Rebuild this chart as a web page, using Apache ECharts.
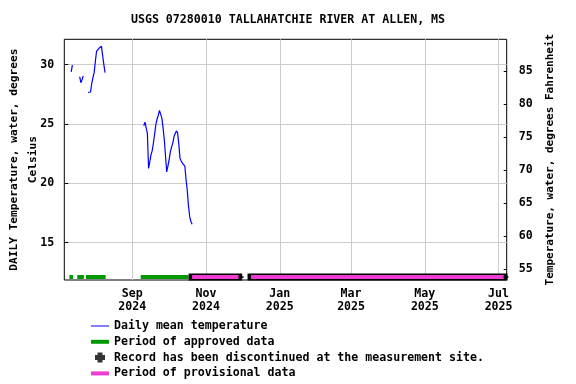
<!DOCTYPE html>
<html><head><meta charset="utf-8">
<script src="https://cdn.jsdelivr.net/npm/echarts@6/dist/echarts.min.js"></script>
<style>html,body{margin:0;padding:0;background:#fff}#c{width:576px;height:384px}</style>
</head><body><div id="c"></div>
<script>
const titleText = 'USGS 07280010 TALLAHATCHIE RIVER AT ALLEN, MS';
// daily mean water temperature (deg C), one value per day starting at each segment date
const tempStartDates = ['2024-07-12', '2024-07-19', '2024-07-26', '2024-09-10'];
const tempSeg1 = [29.4, 29.97];
const tempSeg2 = [29.0, 28.48, 28.75, 29.05];
const tempSeg3 = [27.67, 27.67, 27.7, 28.43, 28.9, 29.35, 30.3, 31.15, 31.3, 31.38, 31.46, 31.56, 31.45, 30.0, 29.33];
const tempSeg4 = [24.85, 25.15, 25.15, 24.2, 21.25, 21.8, 22.4, 22.75, 23.4, 24.15, 24.95, 25.4, 25.72, 26.15, 26.05,
  25.5, 24.65, 23.7, 22.3, 20.96, 21.45, 22.0, 22.65, 23.05, 23.37, 23.92, 24.2, 24.42, 24.25, 23.3, 22.1, 21.88,
  21.7, 21.56, 21.45, 20.3, 19.4, 18.1, 17.2, 16.78, 16.55];
const tempSegments = [tempSeg1, tempSeg2, tempSeg3, tempSeg4];

const approvedStart = ['2024-07-11T00:00', '2024-07-17T12:00', '2024-07-24T18:00', '2024-09-08T00:00'];
const approvedEnd   = ['2024-07-14T00:00', '2024-07-23T00:00', '2024-08-10T00:00', '2024-10-17T12:00'];
const provisionalStart = ['2024-10-20T12:00', '2024-12-08T06:00'];
const provisionalEnd   = ['2024-11-28T00:00', '2025-07-05T12:00'];
const discontinuedDates = ['2024-11-30T00:00', '2025-07-07T00:00'];

const xTickDates = ['2024-09-01', '2024-11-01', '2025-01-01', '2025-03-01', '2025-05-01', '2025-07-01'];
const xTickLabels = ['Sep\n2024', 'Nov\n2024', 'Jan\n2025', 'Mar\n2025', 'May\n2025', 'Jul\n2025'];
const xRange = ['2024-07-06T19:00', '2025-07-07T17:00'];
const yTicksC = [15, 20, 25, 30];
const yTicksF = [55, 60, 65, 70, 75, 80, 85];
const yRangeC = [11.85, 32.14];
const periodLevelC = 12.1;

const legendNames = ['Daily mean temperature', 'Period of approved data',
  'Record has been discontinued at the measurement site.', 'Period of provisional data'];

const DAY = 86400000;
const t = s => Date.parse(s.length === 10 ? s + 'T00:00:00Z' : s + ':00Z');
const c2f = c => c * 1.8 + 32;

// build temperature data with breaks between segments
const tempData = [];
tempSegments.forEach((seg, k) => {
  const s0 = t(tempStartDates[k]);
  seg.forEach((v, i) => tempData.push([s0 + (i + 0.5) * DAY, v]));
  tempData.push([s0 + (seg.length + 1) * DAY, null]);
});
const periodData = (starts, ends) => {
  const d = [];
  starts.forEach((s, i) => {
    d.push([t(s), periodLevelC], [t(ends[i]), periodLevelC], [t(ends[i]) + DAY / 4, null]);
  });
  return d;
};
const approvedData = periodData(approvedStart, approvedEnd);
const provisionalData = periodData(provisionalStart, provisionalEnd);
const discData = discontinuedDates.map(s => [t(s), periodLevelC]);
const xTickVals = xTickDates.map(t);

const FONT = "'DejaVu Sans Mono', monospace";
const frame = 'M0,0M18,14';
const plusPath = 'path://M3,0H7V3H10V7H7V10H3V7H0V3H3Z';

const chart = echarts.init(document.getElementById('c'), null, {renderer: 'canvas'});
chart.setOption({
  animation: false,
  backgroundColor: '#fff',
  title: {
    text: titleText, left: 'center', top: 13, padding: 0,
    textStyle: {fontFamily: FONT, fontWeight: 'bold', fontSize: 11.6, color: '#000', lineHeight: 14}
  },
  grid: {left: 64.3, right: 69.3, top: 39.3, bottom: 104, show: true, borderColor: '#000', borderWidth: 1,
    backgroundColor: 'transparent', containLabel: false, outerBoundsMode: 'none'},
  legend: {
    orient: 'vertical', left: 91, top: 319, padding: 0, itemWidth: 18, itemHeight: 14, itemGap: 1.8,
    selectedMode: false,
    textStyle: {fontFamily: FONT, fontWeight: 'bold', fontSize: 11.6, color: '#000', lineHeight: 14},
    data: [
      {name: legendNames[0], icon: 'path://' + frame + 'M0,6.5H18V7.5H0Z', itemStyle: {color: '#0000ff', borderWidth: 0}},
      {name: legendNames[1], icon: 'path://' + frame + 'M0,5H18V9H0Z', itemStyle: {color: '#009a00', borderWidth: 0}},
      {name: legendNames[2], icon: 'path://' + frame + 'M6.5,2H11.5V4.5H14V9.5H11.5V12H6.5V9.5H4V4.5H6.5Z', itemStyle: {color: '#000', borderWidth: 0}},
      {name: legendNames[3], icon: 'path://' + frame + 'M0,5H18V9H0Z', itemStyle: {color: '#f03cd2', borderWidth: 0}}
    ]
  },
  xAxis: {
    type: 'value', min: t(xRange[0]), max: t(xRange[1]),
    axisLine: {show: false},
    axisTick: {show: false, customValues: xTickVals},
    splitLine: {show: true, lineStyle: {color: '#cccccc', width: 1}},
    axisLabel: {
      customValues: xTickVals, margin: 8, lineHeight: 12.5,
      fontFamily: FONT, fontWeight: 'bold', fontSize: 11.6, color: '#000',
      formatter: v => { const i = xTickVals.indexOf(v); return i >= 0 ? xTickLabels[i] : ''; }
    }
  },
  yAxis: [{
    type: 'value', min: yRangeC[0], max: yRangeC[1],
    name: 'DAILY Temperature, water, degrees\nCelsius', nameLocation: 'middle', nameRotate: 90, nameGap: 22,
    nameMoveOverlap: false,
    nameTextStyle: {fontFamily: FONT, fontWeight: 'bold', fontSize: 11.2, color: '#000', lineHeight: 19},
    axisLine: {show: false},
    axisTick: {show: true, inside: true, length: 4, customValues: yTicksC, lineStyle: {color: '#000'}},
    splitLine: {show: true, lineStyle: {color: '#cccccc', width: 1}},
    axisLabel: {customValues: yTicksC, margin: 10, fontFamily: FONT, fontWeight: 'bold', fontSize: 11.6, color: '#000'}
  }, {
    type: 'value', position: 'right', min: c2f(yRangeC[0]), max: c2f(yRangeC[1]),
    name: 'Temperature, water, degrees Fahrenheit', nameLocation: 'middle', nameRotate: 90, nameGap: 38,
    nameMoveOverlap: false,
    nameTextStyle: {fontFamily: FONT, fontWeight: 'bold', fontSize: 11, color: '#000'},
    axisLine: {show: false},
    axisTick: {show: true, inside: true, length: 3, customValues: yTicksF, lineStyle: {color: '#000'}},
    splitLine: {show: false},
    axisLabel: {customValues: yTicksF, margin: 12, fontFamily: FONT, fontWeight: 'bold', fontSize: 11.6, color: '#000'}
  }],
  series: [
    {name: legendNames[0], type: 'line', data: tempData, symbol: 'none', connectNulls: false,
      lineStyle: {color: '#0000ff', width: 1.2}, itemStyle: {color: '#0000ff'}, z: 5},
    {name: legendNames[1], type: 'line', data: approvedData, symbol: 'none', connectNulls: false,
      lineStyle: {color: '#009a00', width: 4, cap: 'butt'}, itemStyle: {color: '#009a00'}, z: 3},
    {name: 'provisional-outline', type: 'line', data: provisionalData, symbol: 'none', connectNulls: false,
      lineStyle: {color: '#000', width: 7, cap: 'square'}, itemStyle: {color: '#000'}, z: 3, clip: false},
    {name: legendNames[3], type: 'line', data: provisionalData, symbol: 'none', connectNulls: false,
      lineStyle: {color: '#f03cd2', width: 4, cap: 'butt'}, itemStyle: {color: '#f03cd2'}, z: 4},
    {name: legendNames[2], type: 'scatter', data: discData, symbol: plusPath, symbolSize: 5,
      itemStyle: {color: '#000'}, z: 6, clip: false}
  ]
});
</script></body></html>
